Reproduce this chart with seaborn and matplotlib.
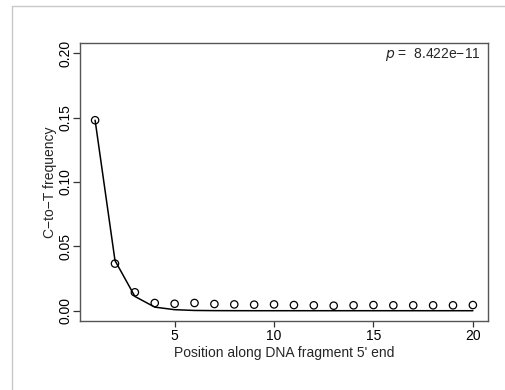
import numpy as np
import pandas as pd
import matplotlib
matplotlib.use("Agg")
import matplotlib.pyplot as plt
from matplotlib.lines import Line2D
import seaborn as sns

position = list(range(1, 21))
observed = [0.148, 0.0366, 0.0143, 0.0060, 0.0054, 0.0060, 0.0052, 0.0049, 0.0047, 0.0049,
            0.0044, 0.0042, 0.0039, 0.0042, 0.0044, 0.0042, 0.0042, 0.0042, 0.0042, 0.0044]
fitted = [0.148, 0.039, 0.0111, 0.0028, 0.0008, 0.0002, 0.00006, 0.00002, 0.0, 0.0,
          0.0, 0.0, 0.0, 0.0, 0.0, 0.0, 0.0, 0.0, 0.0, 0.0]
x_ticks = [5, 10, 15, 20]
y_ticks = [0.00, 0.05, 0.10, 0.15, 0.20]
p_label = "8.422e\u221211"

df = pd.DataFrame({"pos": position, "obs": observed, "fit": fitted})

sns.set_style("white")
plt.rcParams["font.family"] = ["Liberation Sans", "DejaVu Sans"]
plt.rcParams["font.size"] = 10

fig = plt.figure(figsize=(5.05, 3.9), dpi=100)
ax = fig.add_axes([0.1584, 0.1769, 0.8079, 0.7128])

sns.lineplot(data=df, x="pos", y="fit", color="black", linewidth=1.1, ax=ax)
sns.scatterplot(data=df, x="pos", y="obs", marker="o", s=28, facecolor="none",
                edgecolor="black", linewidth=0.9, ax=ax, zorder=3)

ax.set_xlim(0.24, 20.76)
ax.set_ylim(-0.008, 0.208)
ax.set_xticks(x_ticks)
ax.set_xticklabels([str(t) for t in x_ticks])
ax.set_yticks(y_ticks)
ax.set_yticklabels(["%.2f" % t for t in y_ticks], rotation=90, va="center")
ax.tick_params(bottom=True, left=True, direction="out", width=0.9,
               colors="#333333", labelcolor="black", labelsize=10)
ax.tick_params(axis="x", length=4, pad=2)
ax.tick_params(axis="y", length=5, pad=0.5)
for s in ax.spines.values():
    s.set_color("#555555")
    s.set_linewidth(1.0)

ax.set_xlabel("Position along DNA fragment 5' end", fontsize=10, labelpad=2)
ax.set_ylabel("C\u2212to\u2212T frequency", fontsize=10, labelpad=1)

ax.text(0.982, 0.957, "$p$ =  " + p_label, transform=ax.transAxes,
        ha="right", va="center", fontsize=10)

# light frame of the original panel
fig.add_artist(Line2D([11.5 / 505, 11.5 / 505], [0, 1 - 6 / 390], color="#c8c8c8", linewidth=1.0))
fig.add_artist(Line2D([11.5 / 505, 1], [1 - 6 / 390, 1 - 6 / 390], color="#c8c8c8", linewidth=1.0))

fig.savefig("out.png", dpi=100)
